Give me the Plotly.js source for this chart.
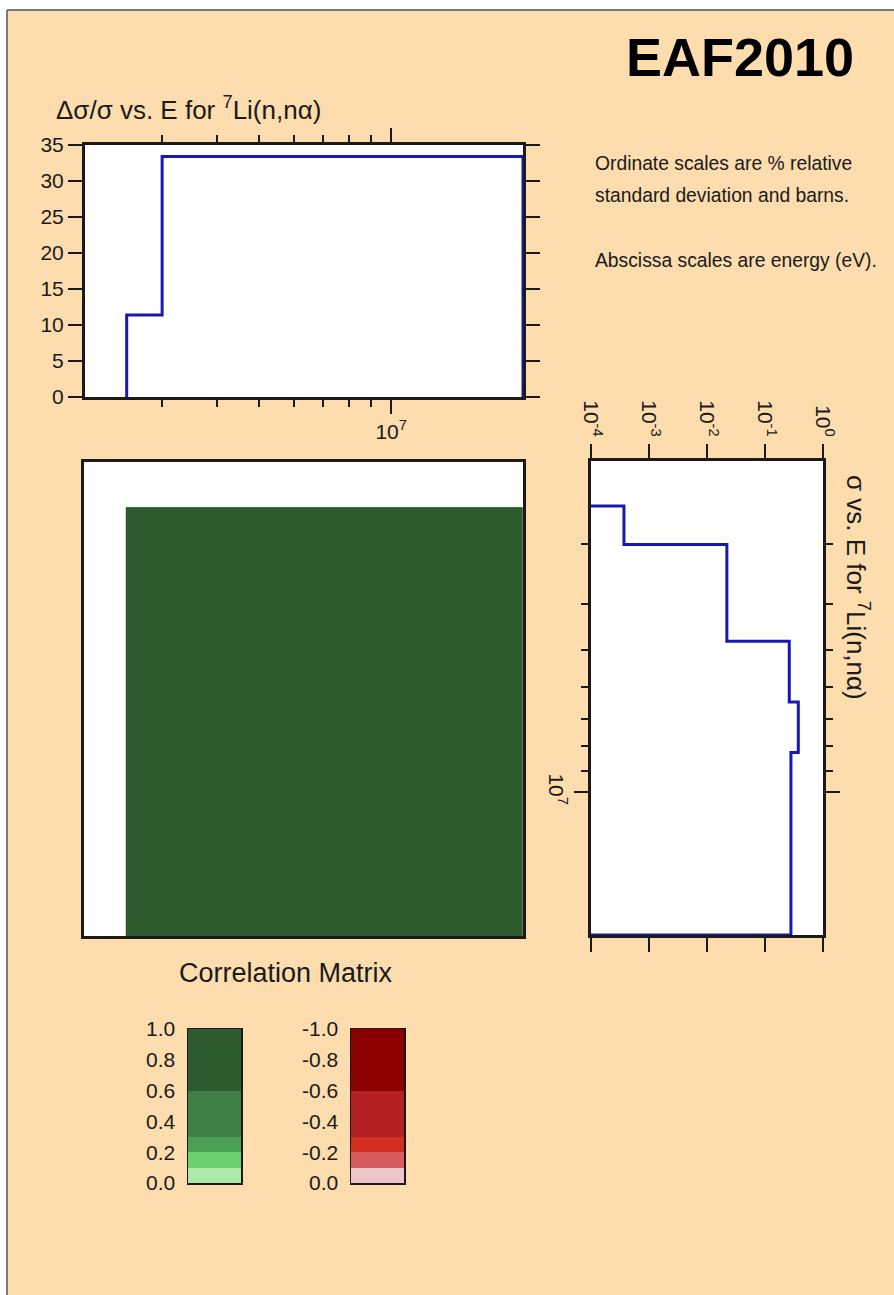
<!DOCTYPE html>
<html>
<head>
<meta charset="utf-8">
<script src="https://cdn.plot.ly/plotly-3.0.1.min.js"></script>
<style>
  html, body { margin: 0; padding: 0; background: #ffffff; }
  #chart { width: 894px; height: 1295px; }
</style>
</head>
<body>
<div id="chart"></div>
<script>
// ---------------- DATA ----------------
// Relative uncertainty (%) groups for 7Li(n,n alpha)
const uncEdges  = [2.49e6, 3.0e6, 2.0e7];      // energy group boundaries (eV)
const uncValues = [11.4, 33.4];                 // % relative standard deviation

// Cross section (barns) groups
const xsEdges  = [2.49e6, 3.0e6, 4.8e6, 6.45e6, 8.24e6, 2.0e7];
const xsValues = [3.7e-4, 0.022, 0.262, 0.375, 0.28];
const xsFloor  = 1e-4;                          // lower end of the barn scale

// Correlation matrix (all groups fully correlated)
const corrEdges = [2.49e6, 3.0e6, 2.0e7];
const corrMatrix = [
  [1.0, 1.0],
  [1.0, 1.0]
];

// Correlation legend bands
const corrBandEdges = [0.0, 0.1, 0.2, 0.3, 0.6, 1.0];
const greenColors = ['#ACEAA9', '#6AD16C', '#4CA055', '#3E7E47', '#2D5B2E'];
const redColors   = ['#EFC6C8', '#D65A5E', '#D42D22', '#B22024', '#8A0000'];
const legendTicks = [0.0, 0.2, 0.4, 0.6, 0.8, 1.0];

// Tick labels
const energyMajor = [1e7];
const energyMajorText = ['10<sup>7</sup>'];
const energyMinor = [3e6, 4e6, 5e6, 6e6, 7e6, 8e6, 9e6];
const xsTicks = [1e-4, 1e-3, 1e-2, 1e-1, 1];
const xsTickText = ['10<sup>-4</sup>', '10<sup>-3</sup>', '10<sup>-2</sup>', '10<sup>-1</sup>', '10<sup>0</sup>'];

// Texts
const mainTitle = 'EAF2010';
const uncTitle = 'Δσ/σ vs. E for <sup>7</sup>Li(n,nα)';
const xsTitle = 'σ vs. E for <sup>7</sup>Li(n,nα)';
const matrixTitle = 'Correlation Matrix';
const noteLines = ['Ordinate scales are % relative', 'standard deviation and barns.', '', 'Abscissa scales are energy (eV).'];

// ---------------- BUILD ----------------
const W = 894, H = 1295;
const dx = (a, b) => [a / W, b / W];
const dy = (top, bottom) => [1 - bottom / H, 1 - top / H];
const px = a => a / W;
const py = a => 1 - a / H;

const FONT = 'Liberation Sans, Arial, Helvetica, sans-serif';
const INK = '#1a1a1a';
const BLUE = '#1818B2';
const BG = '#FDDCAE';
const Erange = [Math.log10(2e6), Math.log10(2e7)];

// step line for uncertainty
const uncX = [uncEdges[0]], uncY = [0];
uncValues.forEach((v, i) => { uncX.push(uncEdges[i], uncEdges[i + 1]); uncY.push(v, v); });
uncX.push(uncEdges[uncEdges.length - 1]); uncY.push(0);

// step line for cross section (rotated: x = sigma, y = energy)
const xsX = [xsFloor], xsY = [xsEdges[0]];
xsValues.forEach((v, i) => { xsX.push(v, v); xsY.push(xsEdges[i], xsEdges[i + 1]); });
xsX.push(xsFloor); xsY.push(xsEdges[xsEdges.length - 1]);

// colorscale over [-1, 1] built from legend bands
const cs = [];
for (let i = greenColors.length - 1; i >= 0; i--) {
  const lo = -corrBandEdges[i + 1], hi = -corrBandEdges[i];
  cs.push([(lo + 1) / 2, redColors[i]], [(hi + 1) / 2, redColors[i]]);
}
for (let i = 0; i < greenColors.length; i++) {
  const lo = corrBandEdges[i], hi = corrBandEdges[i + 1];
  cs.push([(lo + 1) / 2, greenColors[i]], [(hi + 1) / 2, greenColors[i]]);
}

const mids = corrBandEdges.slice(0, -1).map((v, i) => (v + corrBandEdges[i + 1]) / 2);

const traces = [
  { type: 'scatter', mode: 'lines', x: uncX, y: uncY, xaxis: 'x', yaxis: 'y',
    line: { color: BLUE, width: 3 }, hoverinfo: 'skip', showlegend: false },
  { type: 'scatter', mode: 'lines', x: xsX, y: xsY, xaxis: 'x2', yaxis: 'y2',
    line: { color: BLUE, width: 3 }, hoverinfo: 'skip', showlegend: false },
  { type: 'heatmap', x: corrEdges, y: corrEdges, z: corrMatrix, xaxis: 'x3', yaxis: 'y3',
    colorscale: cs, zmin: -1, zmax: 1, showscale: false, hoverinfo: 'skip' },
  { type: 'heatmap', x: [0, 1], y: corrBandEdges, z: mids.map(m => [m]), xaxis: 'x4', yaxis: 'y4',
    colorscale: cs, zmin: -1, zmax: 1, showscale: false, hoverinfo: 'skip' },
  { type: 'heatmap', x: [0, 1], y: corrBandEdges.map(v => -v), z: mids.map(m => [-m]), xaxis: 'x5', yaxis: 'y5',
    colorscale: cs, zmin: -1, zmax: 1, showscale: false, hoverinfo: 'skip' }
];

const frame = { showline: true, linecolor: INK, linewidth: 3, mirror: 'ticks', showgrid: false, zeroline: false,
  tickcolor: INK, tickwidth: 2, ticks: 'outside', tickfont: { family: FONT, size: 21, color: INK } };

const energyTicks = {
  type: 'log', range: Erange, tickmode: 'array', tickvals: energyMajor, ticktext: energyMajorText, ticklen: 14,
  minor: { tickmode: 'array', tickvals: energyMinor, ticks: 'outside', ticklen: 7, tickwidth: 2, tickcolor: INK, showgrid: false }
};

const legendAxisX = { range: [0, 1], showticklabels: false, ticks: '', showgrid: false, zeroline: false,
  showline: true, linecolor: INK, linewidth: 1.5, mirror: true };
const legendAxisY = { showgrid: false, zeroline: false, showline: true, linecolor: INK, linewidth: 1.5, mirror: true,
  ticks: '', tickmode: 'array', ticklabelstandoff: 7, tickfont: { family: FONT, size: 21, color: INK } };

const layout = {
  width: W, height: H,
  margin: { l: 0, r: 0, t: 0, b: 0, pad: 0 },
  paper_bgcolor: BG, plot_bgcolor: '#ffffff',
  showlegend: false,
  xaxis: Object.assign({}, frame, energyTicks, { domain: dx(85, 523), anchor: 'y', layer: 'below traces' }),
  yaxis: Object.assign({}, frame, { domain: dy(145, 397), anchor: 'x', range: [0, 35], dtick: 5, ticklen: 14 }),
  xaxis2: Object.assign({}, frame, { domain: dx(591, 823), anchor: 'y2', side: 'top', type: 'log', range: [-4, 0],
    tickmode: 'array', tickvals: xsTicks, ticktext: xsTickText, tickangle: 90, ticklen: 14, layer: 'below traces' }),
  yaxis2: Object.assign({}, frame, energyTicks, { domain: dy(461, 935), anchor: 'x2', range: [Erange[1], Erange[0]],
    tickangle: 90, layer: 'below traces' }),
  xaxis3: { domain: dx(84, 523), anchor: 'y3', type: 'log', range: Erange, showticklabels: false, ticks: '',
    showgrid: false, zeroline: false, showline: true, linecolor: INK, linewidth: 3, mirror: true },
  yaxis3: { domain: dy(462, 936), anchor: 'x3', type: 'log', range: [Erange[1], Erange[0]], showticklabels: false, ticks: '',
    showgrid: false, zeroline: false, showline: true, linecolor: INK, linewidth: 3, mirror: true },
  xaxis4: Object.assign({}, legendAxisX, { domain: dx(188, 241), anchor: 'y4' }),
  yaxis4: Object.assign({}, legendAxisY, { domain: dy(1029, 1183), anchor: 'x4', range: [0, 1],
    tickvals: legendTicks, ticktext: legendTicks.map(v => v.toFixed(1)) }),
  xaxis5: Object.assign({}, legendAxisX, { domain: dx(351, 404), anchor: 'y5' }),
  yaxis5: Object.assign({}, legendAxisY, { domain: dy(1029, 1183), anchor: 'x5', range: [0, -1],
    tickvals: legendTicks.map(v => -v), ticktext: legendTicks.map(v => (-v).toFixed(1)) }),
  shapes: [
    { type: 'rect', xref: 'paper', yref: 'paper', x0: -0.02, x1: 1.02, y0: py(10), y1: 1.02,
      fillcolor: '#ffffff', line: { width: 0 }, layer: 'above' },
    { type: 'rect', xref: 'paper', yref: 'paper', x0: -0.02, x1: px(7), y0: -0.02, y1: 1.02,
      fillcolor: '#ffffff', line: { width: 0 }, layer: 'above' },
    { type: 'line', xref: 'paper', yref: 'paper', x0: px(7), x1: 1.02, y0: py(10), y1: py(10),
      line: { color: '#7a7a7a', width: 2 }, layer: 'above' },
    { type: 'line', xref: 'paper', yref: 'paper', x0: px(7), x1: px(7), y0: -0.02, y1: py(10),
      line: { color: '#7a7a7a', width: 2 }, layer: 'above' }
  ],
  annotations: [
    { text: '<b>' + mainTitle + '</b>', xref: 'paper', yref: 'paper', x: px(856), y: py(57), xanchor: 'right', yanchor: 'middle',
      showarrow: false, font: { family: FONT, size: 54, color: '#000' } },
    { text: uncTitle, xref: 'paper', yref: 'paper', x: px(54), y: py(109), xanchor: 'left', yanchor: 'middle',
      showarrow: false, font: { family: FONT, size: 26, color: INK } },
    { text: xsTitle, xref: 'paper', yref: 'paper', x: px(857), y: py(587), xanchor: 'center', yanchor: 'middle',
      textangle: 90, showarrow: false, font: { family: FONT, size: 26, color: INK } },
    { text: matrixTitle, xref: 'paper', yref: 'paper', x: px(286), y: py(973), xanchor: 'center', yanchor: 'middle',
      showarrow: false, font: { family: FONT, size: 27, color: INK } }
  ].concat(noteLines.map((t, i) => ({
    text: t, xref: 'paper', yref: 'paper', x: px(593), y: py(163 + i * 32.5), xanchor: 'left', yanchor: 'middle',
    showarrow: false, font: { family: FONT, size: 19.3, color: INK }
  })).filter(a => a.text !== ''))
};

Plotly.newPlot('chart', traces, layout, { displayModeBar: false, staticPlot: true });
</script>
</body>
</html>
